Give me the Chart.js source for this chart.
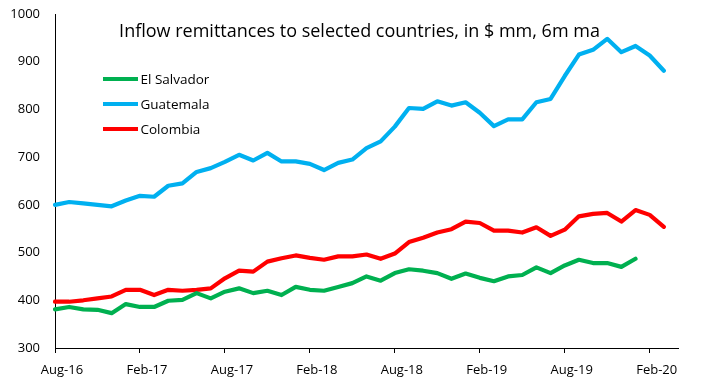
<!DOCTYPE html>
<html>
<head>
<meta charset="utf-8">
<script src="https://cdn.jsdelivr.net/npm/chart.js@4/dist/chart.umd.min.js"></script>
<style>
html,body{margin:0;padding:0;background:#fff;}
canvas{display:block;}
</style>
</head>
<body>
<canvas id="c" width="703" height="387"></canvas>
<script>
// Monthly categories (axis runs one month past the last data point)
const months = ['Aug-16','Sep-16','Oct-16','Nov-16','Dec-16','Jan-17','Feb-17','Mar-17','Apr-17','May-17','Jun-17','Jul-17',
  'Aug-17','Sep-17','Oct-17','Nov-17','Dec-17','Jan-18','Feb-18','Mar-18','Apr-18','May-18','Jun-18','Jul-18',
  'Aug-18','Sep-18','Oct-18','Nov-18','Dec-18','Jan-19','Feb-19','Mar-19','Apr-19','May-19','Jun-19','Jul-19',
  'Aug-19','Sep-19','Oct-19','Nov-19','Dec-19','Jan-20','Feb-20','Mar-20','Apr-20'];
const tickLabels = ['Aug-16','Feb-17','Aug-17','Feb-18','Aug-18','Feb-19','Aug-19','Feb-20'];
const yTicks = [300,400,500,600,700,800,900,1000];
const seriesNames = ['El Salvador','Guatemala','Colombia'];

const elSalvador = [381,386,381,380,373,392,386,386,399,401,415,404,418,425,415,420,411,428,422,420,428,436,450,441,
  457,465,462,457,445,456,447,440,450,453,469,457,473,485,478,478,470,487,null,null];
const guatemala = [600,606,603,600,597,609,619,617,640,645,669,677,690,705,693,709,691,691,686,673,688,695,719,733,
  764,803,801,817,808,815,793,765,779,779,815,822,870,915,925,948,920,933,913,881];
const colombia = [397,397,400,404,408,422,422,411,422,420,422,425,446,462,460,481,488,494,489,485,492,492,496,487,
  498,522,531,542,549,565,562,546,546,542,553,535,548,576,581,583,565,589,579,554];

const colors = ['#00B050','#00B0F0','#FF0000'];
const FONT = "'Open Sans', 'Liberation Sans', sans-serif";

const overlay = {
  id: 'overlay',
  afterDraw(chart) {
    const ctx = chart.ctx;
    ctx.save();
    ctx.fillStyle = '#000';
    ctx.font = '18px ' + FONT;
    ctx.textAlign = 'center';
    ctx.textBaseline = 'alphabetic';
    ctx.fillText('Inflow remittances to selected countries, in $ mm, 6m ma', 359.5, 36.5);
    const ys = [79, 104, 129];
    chart.data.datasets.forEach((ds, i) => {
      ctx.strokeStyle = ds.borderColor;
      ctx.lineWidth = 4;
      ctx.lineCap = 'butt';
      ctx.beginPath();
      ctx.moveTo(103, ys[i]);
      ctx.lineTo(138, ys[i]);
      ctx.stroke();
      ctx.fillStyle = '#000';
      ctx.font = '13.5px ' + FONT;
      ctx.textAlign = 'left';
      ctx.fillText(ds.label, 140.5, ys[i] + 4.7);
    });
    ctx.restore();
  }
};

const mk = (name, data, color) => ({
  label: name, data, borderColor: color, backgroundColor: color,
  borderWidth: 4.2, pointRadius: 0, tension: 0, spanGaps: false,
  borderJoinStyle: 'round', borderCapStyle: 'round'
});

new Chart(document.getElementById('c'), {
  type: 'line',
  data: {
    labels: months,
    datasets: [
      mk(seriesNames[0], elSalvador, colors[0]),
      mk(seriesNames[1], guatemala, colors[1]),
      mk(seriesNames[2], colombia, colors[2])
    ]
  },
  options: {
    responsive: false,
    animation: false,
    devicePixelRatio: 1,
    layout: { padding: { top: 14, right: 25, left: 0, bottom: 0 } },
    plugins: { legend: { display: false }, title: { display: false }, tooltip: { enabled: false } },
    scales: {
      x: {
        type: 'category',
        offset: false,
        border: { display: true, color: '#000', width: 1 },
        grid: {
          drawOnChartArea: false, drawTicks: true, tickLength: 5,
          tickColor: (c) => (c.index % 6 === 0 && c.index <= 42) ? '#000' : 'rgba(0,0,0,0)'
        },
        ticks: {
          autoSkip: false, maxRotation: 0, minRotation: 0, padding: 9, labelOffset: 7,
          color: '#000', font: { family: FONT, size: 13 },
          callback: (v, i) => (i % 6 === 0 && i <= 42) ? tickLabels[i / 6] : ''
        },
        afterFit: (s) => { s.height = 39; }
      },
      y: {
        min: 300, max: 1000,
        border: { display: true, color: '#000', width: 1 },
        grid: { drawOnChartArea: false, drawTicks: false },
        afterBuildTicks: (s) => { s.ticks = yTicks.map(v => ({ value: v })); },
        ticks: { padding: 15, color: '#000', font: { family: FONT, size: 13 },
          callback: (v) => String(v) },
        afterFit: (s) => { s.width = 55; s.paddingTop = 0; s.paddingBottom = 0; }
      }
    }
  },
  plugins: [overlay]
});
</script>
</body>
</html>
